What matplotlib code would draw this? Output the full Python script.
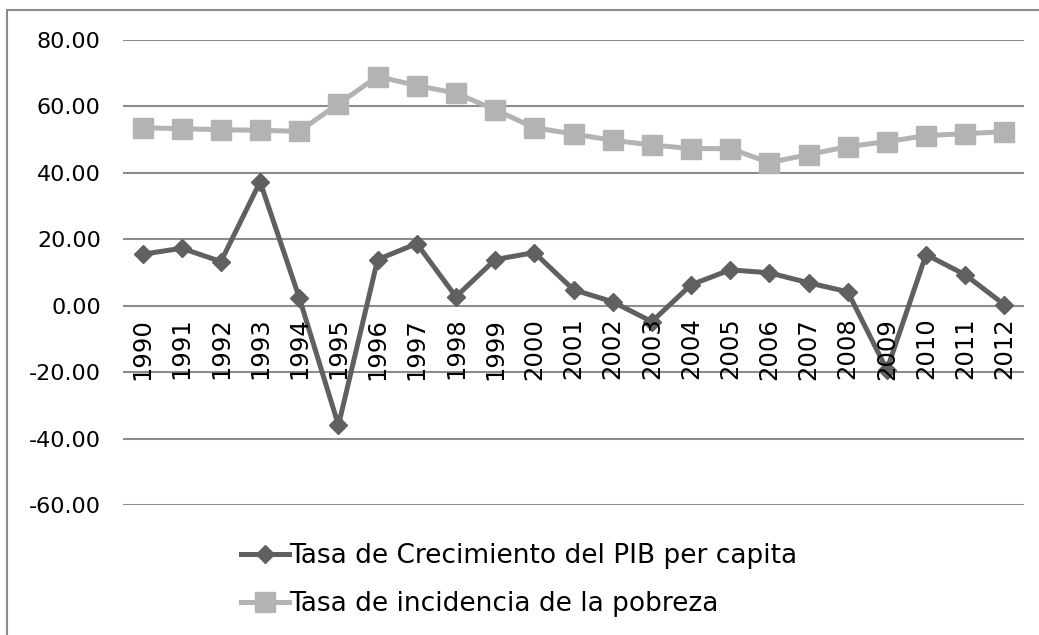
import matplotlib
matplotlib.use("Agg")
import matplotlib.pyplot as plt
from matplotlib.patches import Rectangle

years = [str(y) for y in range(1990, 2013)]
pib_growth = [15.5, 17.3, 13.3, 37.3, 2.4, -36.0, 13.9, 18.7, 2.7, 13.9, 16.0,
              4.8, 1.2, -4.8, 6.3, 10.8, 9.9, 6.9, 4.2, -19.3, 15.4, 9.3, 0.3]
pobreza = [53.6, 53.3, 53.0, 52.8, 52.5, 60.8, 69.0, 66.3, 64.0, 59.0, 53.6,
           51.7, 49.8, 48.4, 47.3, 47.3, 43.1, 45.5, 47.9, 49.4, 51.2, 51.8, 52.4]
yticks = [-60, -40, -20, 0, 20, 40, 60, 80]

label_pib = "Tasa de Crecimiento del PIB per capita"
label_pob = "Tasa de incidencia de la pobreza"

plt.rcParams['font.family'] = ['DejaVu Sans']

fig = plt.figure(figsize=(10.39, 6.35), dpi=100)
W, H = 1039, 635
# outer chart border
fig.patches.append(Rectangle((7/W, -0.1), 1.2, 1 - 10/H + 0.1, transform=fig.transFigure,
                             fill=False, edgecolor="#8c8c8c", lw=1.5))

ax = fig.add_axes([123/W, 1 - 505/H, 901/W, 465/H])
x = list(range(len(years)))

ax.plot(x, pib_growth, "-D", color="#606060", lw=3.6, markersize=9.5,
        label=label_pib, zorder=4)
ax.plot(x, pobreza, "-s", color="#b3b3b3", lw=3.6, markersize=14,
        label=label_pob, zorder=3)

ax.set_xlim(-0.5, len(years) - 0.5)
ax.set_ylim(-60, 80)
ax.set_yticks(yticks)
ax.set_yticklabels(["%.2f" % v for v in yticks], fontsize=16)
ax.tick_params(axis="y", length=0, pad=16)
ax.set_xticks([])
for y in yticks:
    ax.axhline(y, color="#8c8c8c", lw=1.5, zorder=1)
for sp in ax.spines.values():
    sp.set_visible(False)

for i, yr in enumerate(years):
    ax.annotate(yr, (i, 0), xytext=(0, -12), textcoords="offset pixels",
                rotation=90, ha="center", va="top", fontsize=17.5, zorder=5)

leg = fig.legend(loc="upper left", bbox_to_anchor=(228/W, 1 - 530/H),
                 frameon=False, fontsize=19, handlelength=1.8, handletextpad=0.02,
                 labelspacing=0.82, borderpad=0)

fig.savefig("out.png", dpi=100)
